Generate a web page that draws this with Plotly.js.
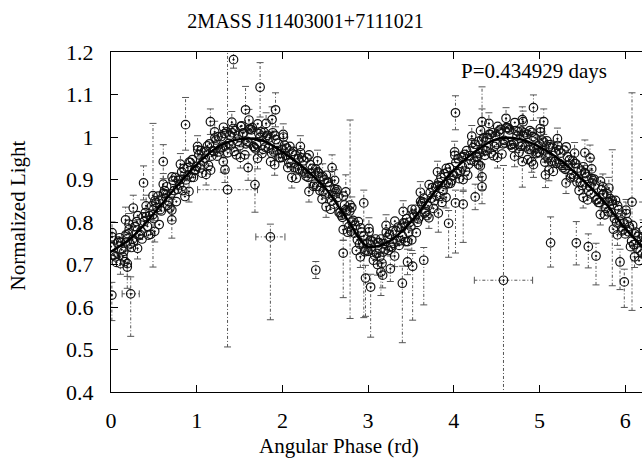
<!DOCTYPE html>
<html>
<head>
<meta charset="utf-8">
<script src="https://cdn.plot.ly/plotly-3.0.1.min.js"></script>
<style>
html,body{margin:0;padding:0;overflow:hidden;background:#fff;}
#chart{width:650px;height:464px;}
</style>
</head>
<body>
<div id="chart"></div>
<script>
// ---- Data ----
const chartTitle = "2MASS J11403001+7111021";
const periodLabel = "P=0.434929 days";
const xTickVals = [0,1,2,3,4,5,6];
const xTickText = ["0","1","2","3","4","5","6"];
const yTickVals = [0.4,0.5,0.6,0.7,0.8,0.9,1.0,1.1,1.2];
const yTickText = ["0.4","0.5","0.6","0.7","0.8","0.9","1","1.1","1.2"];

// dense band of measurements (set A)
const bandAX = [0.00,0.05,0.10,0.15,0.20,0.25,0.30,0.35,0.40,0.45,
0.50,0.55,0.60,0.65,0.70,0.75,0.80,0.85,0.90,0.95,
1.00,1.05,1.10,1.15,1.20,1.25,1.30,1.35,1.40,1.45,
1.50,1.55,1.60,1.65,1.70,1.75,1.80,1.85,1.90,1.95,
2.00,2.05,2.10,2.15,2.20,2.25,2.30,2.35,2.40,2.45,
2.50,2.55,2.60,2.65,2.70,2.75,2.80,2.85,2.90,2.95,
3.00,3.05,3.10,3.15,3.20,3.25,3.30,3.35,3.40,3.45,
3.50,3.55,3.60,3.65,3.70,3.75,3.80,3.85,3.90,3.95,
4.00,4.05,4.10,4.15,4.20,4.25,4.30,4.35,4.40,4.45,
4.50,4.55,4.60,4.65,4.70,4.75,4.80,4.85,4.90,4.95,
5.00,5.05,5.10,5.15,5.20,5.25,5.30,5.35,5.40,5.45,
5.50,5.55,5.60,5.65,5.70,5.75,5.80,5.85,5.90,5.95,
6.00,6.05,6.10,6.15,6.20,6.25];
const bandAY = [0.742,0.718,0.763,0.731,0.772,0.759,0.801,0.779,0.822,0.815,
0.808,0.861,0.852,0.883,0.866,0.905,0.887,0.926,0.911,0.947,
0.931,0.968,0.950,0.984,0.966,1.001,0.976,1.012,0.981,1.015,
0.979,1.010,0.988,1.022,0.982,1.012,0.976,0.998,0.965,0.985,
0.952,0.974,0.939,0.958,0.924,0.944,0.905,0.926,0.884,0.906,
0.866,0.884,0.842,0.858,0.811,0.826,0.778,0.792,0.748,0.767,
0.731,0.755,0.726,0.760,0.735,0.771,0.750,0.788,0.767,0.808,
0.789,0.830,0.812,0.856,0.838,0.881,0.862,0.905,0.888,0.928,
0.910,0.949,0.930,0.968,0.946,0.983,0.962,0.998,0.975,1.010,
0.983,1.018,0.986,1.017,0.984,1.013,0.979,1.006,0.970,0.998,
0.963,0.988,0.951,0.976,0.938,0.962,0.924,0.946,0.906,0.927,
0.886,0.907,0.866,0.887,0.846,0.866,0.824,0.842,0.798,0.816,
0.772,0.789,0.747,0.766,0.725,0.746];

// dense band (set B)
const bandBX = [0.025,0.075,0.125,0.175,0.225,0.275,0.325,0.375,0.425,0.475,
0.525,0.575,0.625,0.675,0.725,0.775,0.825,0.875,0.925,0.975,
1.025,1.075,1.125,1.175,1.225,1.275,1.325,1.375,1.425,1.475,
1.525,1.575,1.625,1.675,1.725,1.775,1.825,1.875,1.925,1.975,
2.025,2.075,2.125,2.175,2.225,2.275,2.325,2.375,2.425,2.475,
2.525,2.575,2.625,2.675,2.725,2.775,2.825,2.875,2.925,2.975,
3.025,3.075,3.125,3.175,3.225,3.275,3.325,3.375,3.425,3.475,
3.525,3.575,3.625,3.675,3.725,3.775,3.825,3.875,3.925,3.975,
4.025,4.075,4.125,4.175,4.225,4.275,4.325,4.375,4.425,4.475,
4.525,4.575,4.625,4.675,4.725,4.775,4.825,4.875,4.925,4.975,
5.025,5.075,5.125,5.175,5.225,5.275,5.325,5.375,5.425,5.475,
5.525,5.575,5.625,5.675,5.725,5.775,5.825,5.875,5.925,5.975,
6.025,6.075,6.125,6.175,6.225,6.275];
const bandBY = [0.722,0.751,0.735,0.770,0.748,0.789,0.768,0.812,0.790,0.838,
0.846,0.829,0.874,0.848,0.898,0.877,0.918,0.899,0.940,0.921,
0.958,0.942,0.979,0.955,0.993,0.972,1.008,0.985,1.020,0.990,
1.026,0.984,1.019,0.975,1.008,0.971,1.004,0.962,0.994,0.951,
0.981,0.940,0.966,0.925,0.951,0.908,0.935,0.889,0.915,0.872,
0.893,0.849,0.871,0.822,0.840,0.789,0.804,0.758,0.776,0.734,
0.757,0.722,0.751,0.729,0.764,0.740,0.779,0.756,0.797,0.776,
0.818,0.799,0.843,0.824,0.869,0.850,0.893,0.874,0.917,0.897,
0.940,0.918,0.959,0.936,0.975,0.952,0.993,0.968,1.006,0.978,
1.014,0.984,1.022,0.982,1.015,0.978,1.010,0.971,1.001,0.964,
0.993,0.955,0.982,0.942,0.969,0.928,0.954,0.912,0.937,0.893,
0.916,0.873,0.897,0.853,0.876,0.832,0.855,0.808,0.829,0.782,
0.801,0.755,0.776,0.732,0.755,0.715];

// dense band (set D)
const bandDX = [0.0125,0.0625,0.1125,0.1625,0.2125,0.2625,0.3125,0.3625,0.4125,0.4625,
0.5125,0.5625,0.6125,0.6625,0.7125,0.7625,0.8125,0.8625,0.9125,0.9625,
1.0125,1.0625,1.1125,1.1625,1.2125,1.2625,1.3125,1.3625,1.4125,1.4625,
1.5125,1.5625,1.6125,1.6625,1.7125,1.7625,1.8125,1.8625,1.9125,1.9625,
2.0125,2.0625,2.1125,2.1625,2.2125,2.2625,2.3125,2.3625,2.4125,2.4625,
2.5125,2.5625,2.6125,2.6625,2.7125,2.7625,2.8125,2.8625,2.9125,2.9625,
3.0125,3.0625,3.1125,3.1625,3.2125,3.2625,3.3125,3.3625,3.4125,3.4625,
3.5125,3.5625,3.6125,3.6625,3.7125,3.7625,3.8125,3.8625,3.9125,3.9625,
4.0125,4.0625,4.1125,4.1625,4.2125,4.2625,4.3125,4.3625,4.4125,4.4625,
4.5125,4.5625,4.6125,4.6625,4.7125,4.7625,4.8125,4.8625,4.9125,4.9625,
5.0125,5.0625,5.1125,5.1625,5.2125,5.2625,5.3125,5.3625,5.4125,5.4625,
5.5125,5.5625,5.6125,5.6625,5.7125,5.7625,5.8125,5.8625,5.9125,5.9625,
6.0125,6.0625,6.1125,6.1625,6.2125,6.2625];
const bandDY = [0.765,0.705,0.752,0.707,0.783,0.753,0.815,0.760,0.813,0.771,
0.850,0.794,0.867,0.839,0.906,0.848,0.900,0.860,0.941,0.905,
0.970,0.915,0.967,0.922,0.998,0.965,1.023,0.963,1.010,0.958,
1.025,0.958,1.018,0.978,1.031,0.961,1.000,0.942,1.004,0.952,
1.000,0.928,0.962,0.903,0.963,0.915,0.958,0.884,0.918,0.854,
0.910,0.830,0.877,0.822,0.861,0.776,0.800,0.733,0.786,0.730,
0.777,0.710,0.752,0.703,0.776,0.743,0.802,0.745,0.798,0.754,
0.830,0.775,0.848,0.821,0.888,0.832,0.886,0.846,0.926,0.891,
0.957,0.902,0.954,0.910,0.986,0.954,1.015,0.957,1.006,0.956,
1.025,0.960,1.022,0.981,1.034,0.964,1.003,0.947,1.011,0.961,
1.012,0.941,0.977,0.919,0.980,0.933,0.977,0.904,0.938,0.874,
0.930,0.852,0.902,0.852,0.896,0.817,0.848,0.783,0.838,0.779,
0.820,0.742,0.772,0.709,0.766,0.718];

// dense band (set E)
const bandEX = [0.0375,0.0875,0.1375,0.1875,0.2375,0.2875,0.3375,0.3875,0.4375,0.4875,
0.5375,0.5875,0.6375,0.6875,0.7375,0.7875,0.8375,0.8875,0.9375,0.9875,
1.0375,1.0875,1.1375,1.1875,1.2375,1.2875,1.3375,1.3875,1.4375,1.4875,
1.5375,1.5875,1.6375,1.6875,1.7375,1.7875,1.8375,1.8875,1.9375,1.9875,
2.0375,2.0875,2.1375,2.1875,2.2375,2.2875,2.3375,2.3875,2.4375,2.4875,
2.5375,2.5875,2.6375,2.6875,2.7375,2.7875,2.8375,2.8875,2.9375,2.9875,
3.0375,3.0875,3.1375,3.1875,3.2375,3.2875,3.3375,3.3875,3.4375,3.4875,
3.5375,3.5875,3.6375,3.6875,3.7375,3.7875,3.8375,3.8875,3.9375,3.9875,
4.0375,4.0875,4.1375,4.1875,4.2375,4.2875,4.3375,4.3875,4.4375,4.4875,
4.5375,4.5875,4.6375,4.6875,4.7375,4.7875,4.8375,4.8875,4.9375,4.9875,
5.0375,5.0875,5.1375,5.1875,5.2375,5.2875,5.3375,5.3875,5.4375,5.4875,
5.5375,5.5875,5.6375,5.6875,5.7375,5.7875,5.8375,5.8875,5.9375,5.9875,
6.0375,6.0875,6.1375,6.1875,6.2375,6.2775];
const bandEY = [0.722,0.755,0.718,0.753,0.740,0.789,0.771,0.801,0.769,0.817,
0.834,0.826,0.866,0.833,0.874,0.898,0.874,0.928,0.905,0.923,
0.927,0.965,0.933,0.968,0.955,1.001,0.979,1.004,0.966,1.004,
1.009,0.990,1.017,0.972,0.999,1.011,0.974,1.010,0.968,0.970,
0.957,0.978,0.928,0.949,0.920,0.951,0.914,0.925,0.874,0.900,
0.894,0.862,0.876,0.816,0.829,0.826,0.774,0.801,0.750,0.748,
0.734,0.760,0.718,0.749,0.733,0.779,0.758,0.786,0.754,0.800,
0.814,0.807,0.847,0.815,0.856,0.882,0.860,0.914,0.890,0.909,
0.914,0.952,0.920,0.956,0.943,0.990,0.971,0.998,0.962,1.002,
1.009,0.992,1.021,0.975,1.002,1.014,0.977,1.015,0.975,0.979,
0.969,0.991,0.943,0.965,0.937,0.969,0.933,0.945,0.894,0.920,
0.914,0.884,0.901,0.846,0.864,0.867,0.822,0.851,0.802,0.797,
0.777,0.792,0.738,0.755,0.723,0.754];

// looser points around the band (small error bars)
const looseX = [0.012,0.11,0.21,0.31,0.41,0.51,0.61,0.71,0.81,0.91,
1.01,1.11,1.21,1.31,1.41,1.51,1.61,1.71,1.81,1.91,
2.01,2.11,2.21,2.31,2.41,2.51,2.61,2.71,2.81,2.91,
3.01,3.11,3.21,3.31,3.41,3.51,3.61,3.71,3.81,3.91,
4.01,4.11,4.21,4.31,4.41,4.51,4.61,4.71,4.81,4.91,
5.01,5.11,5.21,5.31,5.41,5.51,5.61,5.71,5.81,5.91,
6.01,6.11,6.21];
const looseY = [0.775,0.702,0.795,0.738,0.838,0.778,0.889,0.828,0.936,0.872,
0.978,0.912,1.012,0.942,1.035,0.952,1.040,0.950,1.032,0.935,
1.006,0.905,0.978,0.872,0.944,0.836,0.898,0.782,0.834,0.718,
0.785,0.700,0.792,0.720,0.825,0.758,0.870,0.810,0.918,0.858,
0.965,0.900,1.002,0.932,1.032,0.952,1.044,0.955,1.036,0.942,
1.020,0.922,0.996,0.892,0.962,0.858,0.925,0.818,0.880,0.770,
0.828,0.718,0.780];
const looseErr = 0.025;

// outlying points with their error bars
const outX = [1.43,1.36,1.74,0.87,1.57,1.92,1.16,0.61,0.38,0.71,
1.68,1.86,0.26,0.17,0.19,0.19,0.01,0.23,2.39,2.71,
2.97,3.03,2.95,3.15,3.40,3.46,3.52,3.65,3.26,3.17,
3.94,3.82,4.02,4.11,4.58,5.13,5.43,5.57,5.66,5.99,
6.08,5.94,4.02,4.25,4.33,4.33,4.29,4.33,4.93,4.80,
5.05,4.80,4.93,5.07,5.53,5.59,5.74,1.88,2.74,2.58,
2.47,2.79,5.85,1.33,1.60,0.49];
const outY = [1.182,0.876,1.117,1.029,1.064,1.064,1.036,0.942,0.892,0.805,
0.888,0.765,0.833,0.805,0.694,0.702,0.628,0.631,0.687,0.727,
0.668,0.647,0.845,0.682,0.656,0.706,0.696,0.710,0.690,0.675,
0.797,0.821,0.845,0.842,0.663,0.751,0.751,0.742,0.720,0.659,
0.847,0.706,1.057,0.859,0.883,0.906,0.935,1.036,1.069,1.041,
1.036,0.942,0.935,0.911,0.963,0.951,0.883,1.041,0.871,0.928,
0.907,0.840,0.850,0.923,0.928,0.862];
const outErrLo = [0.02,0.37,0.07,0.06,0.05,0.04,0.03,0.04,0.04,0.043,
0.065,0.195,0.03,0.03,0.05,0.03,0.06,0.10,0.02,0.105,
0.09,0.118,0.27,0.055,0.14,0.03,0.127,0.105,0.03,0.03,
0.08,0.045,0.118,0.09,0.27,0.057,0.052,0.05,0.068,0.06,
0.255,0.065,0.04,0.03,0.04,0.03,0.03,0.03,0.03,0.03,
0.03,0.06,0.03,0.03,0.03,0.03,0.05,0.03,0.04,0.03,
0.03,0.267,0.20,0.03,0.03,0.168];
const outErrHi = [0.02,0.33,0.058,0.064,0.055,0.04,0.03,0.04,0.04,0.054,
0.11,0.03,0.03,0.03,0.04,0.03,0.03,0.04,0.02,0.03,
0.03,0.03,0.03,0.02,0.04,0.03,0.03,0.03,0.03,0.03,
0.03,0.03,0.03,0.03,0.27,0.061,0.05,0.03,0.03,0.03,
0.257,0.03,0.04,0.03,0.235,0.03,0.03,0.03,0.03,0.03,
0.03,0.03,0.03,0.03,0.03,0.03,0.03,0.03,0.04,0.03,
0.03,0.20,0.12,0.03,0.03,0.17];
const outXErr = [0,0.35,0,0,0,0,0,0,0,0,
0,0.17,0,0,0,0,0,0.10,0,0,
0,0,0,0,0,0,0,0,0,0,
0,0,0,0,0.34,0,0,0,0,0,
0.29,0,0,0,0,0,0,0,0,0,
0,0,0,0,0,0,0,0,0,0,
0,0,0,0,0,0];

// fitted curve
const fitX = [0,0.25,0.5,0.75,1,1.25,1.5,1.75,2,2.25,2.5,2.75,3,3.25,3.5,3.75,4,4.25,4.5,4.75,5,5.25,5.5,5.75,6,6.283];
const fitY = [0.73,0.765,0.82,0.88,0.935,0.977,0.995,0.993,0.965,0.927,0.88,0.808,0.742,0.755,0.8,0.864,0.922,0.966,0.995,0.996,0.977,0.945,0.9,0.849,0.785,0.725];

// ---- Build error-bar segments from the data ----
const segX = [], segY = [], capVX = [], capVY = [], capHX = [], capHY = [];
function addBar(x, y, lo, hi, xe) {
  segX.push(x, x, null); segY.push(y - lo, y + hi, null);
  capVX.push(x, x); capVY.push(y - lo, y + hi);
  if (xe > 0) {
    segX.push(x - xe, x + xe, null); segY.push(y, y, null);
    capHX.push(x - xe, x + xe); capHY.push(y, y);
  }
}
for (let i = 0; i < outX.length; i++) addBar(outX[i], outY[i], outErrLo[i], outErrHi[i], outXErr[i]);
for (let i = 0; i < looseX.length; i++) addBar(looseX[i], looseY[i], looseErr, looseErr, 0);

const allX = bandAX.concat(bandBX, bandDX, bandEX, looseX, outX);
const allY = bandAY.concat(bandBY, bandDY, bandEY, looseY, outY);

const errColor = '#555';
const traces = [
  {x: segX, y: segY, type: 'scatter', mode: 'lines', hoverinfo: 'skip',
   line: {color: errColor, width: 1, dash: '3px,2px,1px,2px'}, showlegend: false},
  {x: capVX, y: capVY, type: 'scatter', mode: 'markers', hoverinfo: 'skip',
   marker: {symbol: 'line-ew', size: 5, line: {color: errColor, width: 1}}, showlegend: false},
  {x: capHX, y: capHY, type: 'scatter', mode: 'markers', hoverinfo: 'skip',
   marker: {symbol: 'line-ns', size: 5, line: {color: errColor, width: 1}}, showlegend: false},
  {x: allX, y: allY, type: 'scatter', mode: 'markers', showlegend: false,
   marker: {symbol: 'circle-open-dot', size: 8.5, color: '#111', line: {color: '#111', width: 1.2}}},
  {x: fitX, y: fitY, type: 'scatter', mode: 'lines', showlegend: false,
   line: {color: '#000', width: 2.5, shape: 'spline', smoothing: 1}}
];

const serif = '"Liberation Serif", "Times New Roman", serif';
const layout = {
  width: 650, height: 464,
  margin: {l: 111, r: 3, t: 52, b: 72, pad: 0},
  paper_bgcolor: '#fff', plot_bgcolor: '#fff',
  font: {family: serif, size: 20, color: '#000'},
  title: {text: chartTitle, font: {family: serif, size: 20, color: '#000'},
          xref: 'container', yref: 'container', x: 0.47, y: 0.955, xanchor: 'center', yanchor: 'middle'},
  xaxis: {range: [0, 6.255], tickvals: xTickVals, ticktext: xTickText,
          ticks: 'inside', ticklen: 7, tickwidth: 1, tickcolor: '#000',
          showline: true, linecolor: '#000', linewidth: 1.2, mirror: 'ticks',
          showgrid: false, zeroline: false, ticklabelstandoff: 8,
          tickfont: {family: serif, size: 22, color: '#000'}},
  yaxis: {range: [0.4, 1.2], tickvals: yTickVals, ticktext: yTickText,
          ticks: 'inside', ticklen: 7, tickwidth: 1, tickcolor: '#000',
          showline: true, linecolor: '#000', linewidth: 1.2, mirror: 'ticks',
          showgrid: false, zeroline: false, ticklabelstandoff: 12,
          tickfont: {family: serif, size: 22, color: '#000'}},
  annotations: [
    {text: periodLabel, xref: 'paper', yref: 'paper', x: 0.79, y: 0.944,
     xanchor: 'center', yanchor: 'middle', showarrow: false,
     font: {family: serif, size: 21, color: '#000'}},
    {text: 'Angular Phase (rd)', xref: 'paper', yref: 'paper', x: 0.425, y: -0.159,
     xanchor: 'center', yanchor: 'middle', showarrow: false,
     font: {family: serif, size: 21, color: '#000'}},
    {text: 'Normalized Light', xref: 'paper', yref: 'paper', x: -0.173, y: 0.52,
     xanchor: 'center', yanchor: 'middle', textangle: -90, showarrow: false,
     font: {family: serif, size: 21, color: '#000'}}
  ]
};

Plotly.newPlot('chart', traces, layout, {displayModeBar: false, staticPlot: true});
</script>
</body>
</html>
